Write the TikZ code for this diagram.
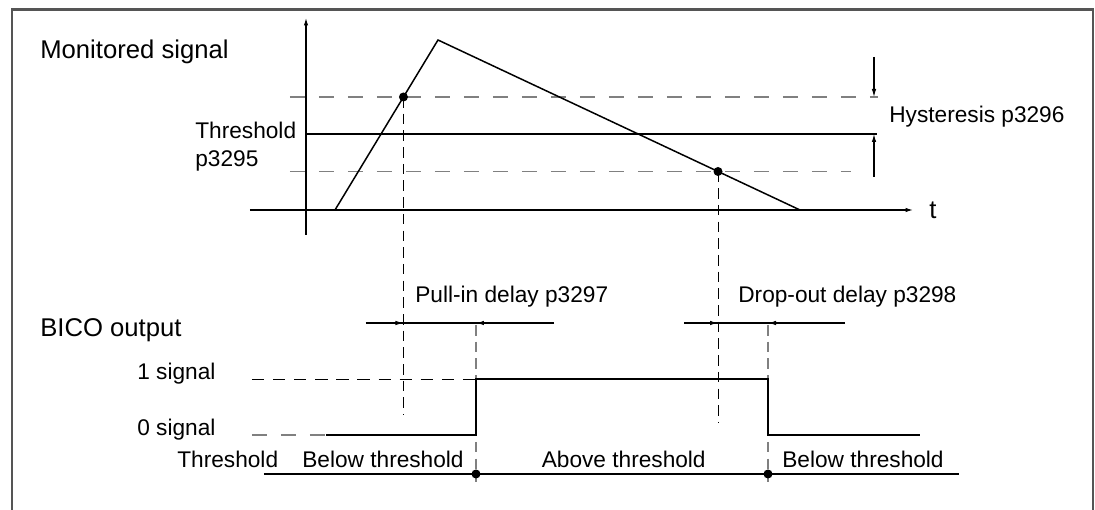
\documentclass[tikz,border=0pt]{standalone}
\usepackage{fontspec}
\setmainfont{Liberation Sans}
\usepackage{xcolor}
\usepackage{tikz}
\usetikzlibrary{calc,arrows.meta}
\definecolor{frameGrey}{HTML}{555555}
\definecolor{dashGrey}{HTML}{808080}
\tikzset{
  sigline/.style={draw=black, line width=0.85pt},
  axisline/.style={-{Latex[length=1.5mm,width=0.9mm]}, line width=0.65pt},
  hystdash/.style={draw=dashGrey, line width=0.7pt, dash pattern=on 8.5pt off 8pt},
  leveldash/.style={draw=black, line width=0.5pt, dash pattern=on 7pt off 5pt},
  dropdash/.style={draw=black, line width=0.5pt, dash pattern=on 6pt off 3.5pt},
  edgedash/.style={draw=dashGrey, line width=0.6pt, dash pattern=on 6pt off 3.5pt},
  dimline/.style={line width=0.6pt},
  dimarrow/.style={-{Latex[length=1.6mm,width=0.9mm]}, line width=0.6pt},
  dotmark/.style={circle, fill=black, inner sep=0pt, minimum size=1.8mm},
  biglabel/.style={font=\fontsize{14.6}{17}\selectfont, anchor=west, inner sep=0pt},
  smalllabel/.style={font=\fontsize{12.9}{16}\selectfont, anchor=west, inner sep=0pt},
}

\begin{document}
\begin{tikzpicture}[x=1cm,y=1cm]
  \useasboundingbox (-6.12,-6.0) rectangle (15.78,4.2);
  \draw[frameGrey, line width=1.2pt] (-5.88,-6.0) -- (-5.88,4.01) -- (15.74,4.01) -- (15.74,-6.0);

  % --- monitored signal ---
  \coordinate (yaxbot) at (0,-0.5);
  \coordinate (yaxtop) at (0,3.84);
  \coordinate (taxbeg) at (-1.12,0);
  \coordinate (taxend) at (12.14,0);
  \draw[axisline] (yaxbot) -- (yaxtop);
  \draw[axisline] (taxbeg) -- (taxend);
  \node[biglabel] (tlabel) at (12.46,0) {t};

  \coordinate (hiL) at (-0.32,2.26);
  \coordinate (hiR) at (11.44,2.26);
  \coordinate (thL) at (0,1.52);
  \coordinate (thR) at (11.42,1.52);
  \coordinate (loL) at (-0.32,0.77);
  \coordinate (loR) at (10.9,0.77);
  \draw[hystdash] (hiL) -- (hiR);
  \draw[sigline] (thL) -- (thR);
  \draw[hystdash] (loL) -- (loR);

  \coordinate (sstart) at (0.58,0);
  \coordinate (speak) at (2.64,3.4);
  \coordinate (send) at (9.88,0);
  \draw[sigline] (sstart) -- (speak) -- (send);
  \coordinate (pullin) at ($(sstart)!0.6647!(speak)$);
  \coordinate (dropout) at ($(speak)!0.7735!(send)$);

  \node[biglabel] (monlabel) at (-5.32,3.16) {Monitored signal};
  \node[smalllabel, align=left] (thlabel) at (-2.22,1.27) {Threshold\\p3295};
  \node[smalllabel] (hystlabel) at (11.66,1.86) {Hysteresis p3296};

  \coordinate (hystA) at (11.36,3.06);
  \coordinate (hystB) at (11.36,0.66);
  \draw[dimarrow] (hystA) -- (hystA |- hiR);
  \draw[dimarrow] (hystB) -- (hystB |- thR);

  % --- delays ---
  \coordinate (pullfoot) at (0,-4.1);
  \coordinate (dropfoot) at (0,-4.26);
  \draw[dropdash] (pullin) -- (pullin |- pullfoot);
  \draw[dropdash] (dropout) -- (dropout |- dropfoot);

  \coordinate (onedge) at (3.4,-2.3);
  \coordinate (offedge) at (9.24,-2.3);
  \coordinate (edgefoot) at (0,-5.44);
  \draw[edgedash] (onedge) -- (onedge |- edgefoot);
  \draw[edgedash] (offedge) -- (offedge |- edgefoot);

  \coordinate (pullA) at (1.2,-2.26);
  \coordinate (pullB) at (4.96,-2.26);
  \coordinate (dropA) at (7.56,-2.26);
  \coordinate (dropB) at (10.78,-2.26);
  \draw[dimline] (pullA) -- (pullB);
  \draw[dimline] (dropA) -- (dropB);
  \draw[dimarrow] (pullA) -- (pullin |- pullA);
  \draw[dimarrow] (pullB) -- (onedge |- pullB);
  \draw[dimarrow] (dropA) -- (dropout |- dropA);
  \draw[dimarrow] (dropB) -- (offedge |- dropB);

  \node[smalllabel] (pulllabel) at (2.18,-1.74) {Pull-in delay p3297};
  \node[smalllabel] (droplabel) at (8.64,-1.74) {Drop-out delay p3298};

  % --- BICO output ---
  \node[biglabel] (bicolabel) at (-5.32,-2.4) {BICO output};
  \node[smalllabel] (onelabel) at (-3.38,-3.28) {1 signal};
  \node[smalllabel] (zerolabel) at (-3.38,-4.4) {0 signal};

  \coordinate (oneL) at (-1.08,-3.38);
  \coordinate (zeroL) at (-1.08,-4.5);
  \coordinate (zeroM) at (0.4,-4.5);
  \coordinate (zeroR) at (12.28,-4.5);
  \draw[leveldash] (oneL) -- (onedge |- oneL);
  \draw[hystdash] (zeroL) -- (zeroM);
  \draw[sigline] (zeroM) -- (onedge |- zeroM) -- (onedge |- oneL) -- (offedge |- oneL) -- (offedge |- zeroM) -- (zeroR);

  % --- threshold state ---
  \coordinate (thbL) at (-0.84,-5.28);
  \coordinate (thbR) at (13.06,-5.28);
  \draw[sigline] (thbL) -- (thbR);
  \node[smalllabel] (thblabel) at (-2.58,-4.98) {Threshold};
  \node[smalllabel] (belowL) at (-0.08,-4.98) {Below threshold};
  \node[smalllabel, anchor=east] (abovelabel) at (8.0,-4.98) {Above threshold};
  \node[smalllabel] (belowR) at (9.52,-4.98) {Below threshold};

  \node[dotmark] (pullindot) at (pullin) {};
  \node[dotmark] (dropoutdot) at (dropout) {};
  \node[dotmark] (onmark) at (onedge |- thbL) {};
  \node[dotmark] (offmark) at (offedge |- thbL) {};
\end{tikzpicture}
\end{document}
